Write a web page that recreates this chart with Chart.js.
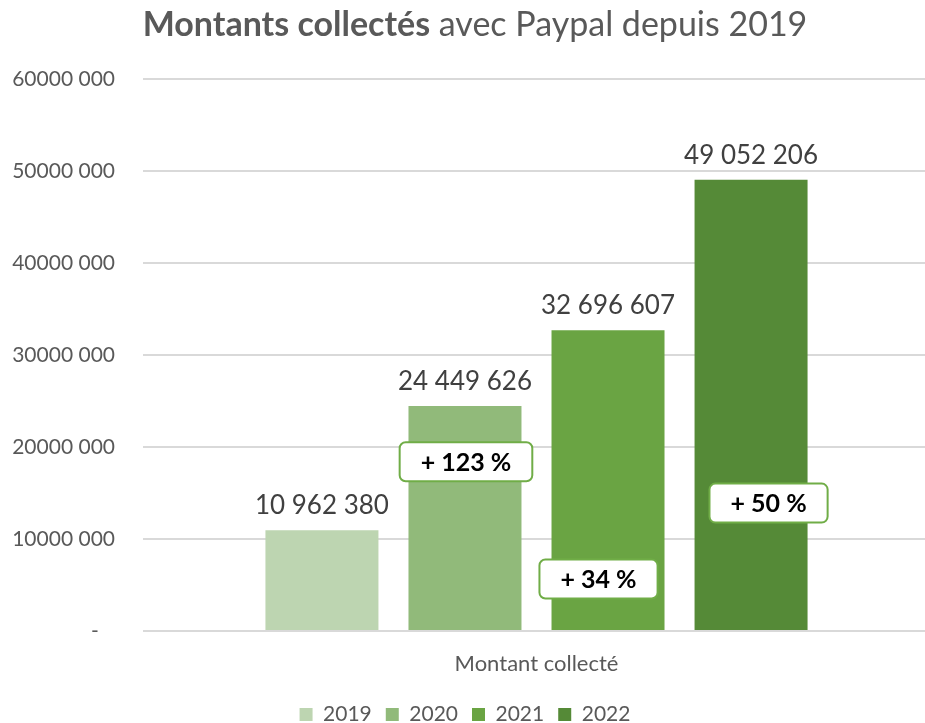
<!DOCTYPE html>
<html>
<head>
<meta charset="utf-8">
<script src="https://cdn.jsdelivr.net/npm/chart.js@4/dist/chart.umd.min.js"></script>
<style>
  html, body { margin: 0; padding: 0; background: #fff; overflow: hidden; }
  #wrap { width: 935px; height: 723px; }
</style>
</head>
<body>
<div id="wrap"><canvas id="chart" width="935" height="723"></canvas></div>
<script>
// data
const categories = ["Montant collecté"];
const years = ["2019", "2020", "2021", "2022"];
const amounts = [10962380, 24449626, 32696607, 49052206];
const yearColors = ["#BDD5B1", "#91BA7A", "#6AA443", "#558A37"];
const yTicks = [0, 10000000, 20000000, 30000000, 40000000, 50000000, 60000000];

// growth callouts (between consecutive years), anchored in axis units
const growthAnchorValue = [18400000, 5650000, 13900000];
const growthShiftX = [1, -9.5, 17.5];

const FONT = "Lato, 'Open Sans', sans-serif";

const fmtSpaces = (n) => String(n).replace(/\B(?=(\d{3})+(?!\d))/g, " ");
const fmtTick = (v) => (v === 0 ? "-   " : Math.floor(v / 1000) + " 000");

const growthLabels = amounts.slice(1).map((v, i) =>
  "+ " + Math.round((v / amounts[i] - 1) * 100) + " %"
);

const titlePlugin = {
  id: "mixedTitle",
  afterDraw(chart) {
    const ctx = chart.ctx;
    const boldPart = "Montants collectés";
    const rest = " avec Paypal depuis 2019";
    ctx.save();
    ctx.fillStyle = "#595959";
    ctx.textBaseline = "alphabetic";
    ctx.font = "bold 34px " + FONT;
    const w1 = ctx.measureText(boldPart).width;
    ctx.font = "34px " + FONT;
    const w2 = ctx.measureText(rest).width;
    let x = 475 - (w1 + w2) / 2;
    ctx.font = "bold 34px " + FONT;
    ctx.fillText(boldPart, x, 36);
    ctx.font = "34px " + FONT;
    ctx.fillText(rest, x + w1, 36);
    ctx.restore();
  }
};

const labelsPlugin = {
  id: "barLabels",
  afterDatasetsDraw(chart) {
    const ctx = chart.ctx;
    const yScale = chart.scales.y;
    ctx.save();
    // value labels above bars
    ctx.font = "26px " + FONT;
    ctx.fillStyle = "#404040";
    ctx.textAlign = "center";
    ctx.textBaseline = "alphabetic";
    chart.data.datasets.forEach((ds, i) => {
      const bar = chart.getDatasetMeta(i).data[0];
      ctx.fillText(fmtSpaces(ds.data[0]), bar.x, bar.y - 16);
    });
    // growth callouts
    ctx.font = "bold 25px " + FONT;
    ctx.textBaseline = "middle";
    growthLabels.forEach((txt, i) => {
      const bar = chart.getDatasetMeta(i + 1).data[0];
      const cx = bar.x + growthShiftX[i];
      const cy = yScale.getPixelForValue(growthAnchorValue[i]);
      const w = ctx.measureText(txt).width + 42;
      const h = 39;
      ctx.beginPath();
      ctx.roundRect(cx - w / 2, cy - h / 2, w, h, 6);
      ctx.fillStyle = "#ffffff";
      ctx.fill();
      ctx.lineWidth = 2;
      ctx.strokeStyle = "#70AD47";
      ctx.stroke();
      ctx.fillStyle = "#000000";
      ctx.fillText(txt, cx, cy + 1);
    });
    ctx.restore();
  }
};

new Chart(document.getElementById("chart").getContext("2d"), {
  type: "bar",
  data: {
    labels: categories,
    datasets: years.map((yr, i) => ({
      label: yr,
      data: [amounts[i]],
      backgroundColor: yearColors[i],
      borderWidth: 0,
      categoryPercentage: 0.727,
      barPercentage: 0.79
    }))
  },
  options: {
    responsive: false,
    animation: false,
    layout: { padding: { top: 79, right: 5, bottom: -12, left: 0 } },
    plugins: {
      title: { display: false },
      tooltip: { enabled: false },
      legend: {
        position: "bottom",
        labels: {
          font: { family: FONT, size: 21 },
          color: "#595959",
          boxWidth: 13,
          boxHeight: 13,
          padding: 14
        }
      }
    },
    scales: {
      x: {
        afterFit(axis) { axis.height = 59; },
        grid: { display: false },
        border: { display: false },
        ticks: { font: { family: FONT, size: 22 }, color: "#595959", padding: 12 }
      },
      y: {
        min: 0,
        max: 60000000,
        afterFit(axis) { axis.width = 143; },
        afterBuildTicks(axis) { axis.ticks = yTicks.map((v) => ({ value: v })); },
        grid: { color: "#D9D9D9", lineWidth: 2, drawTicks: false },
        border: { display: false },
        ticks: {
          font: { family: FONT, size: 21 },
          color: "#595959",
          padding: 28,
          callback: (v) => fmtTick(v)
        }
      }
    }
  },
  plugins: [titlePlugin, labelsPlugin]
});
</script>
</body>
</html>
